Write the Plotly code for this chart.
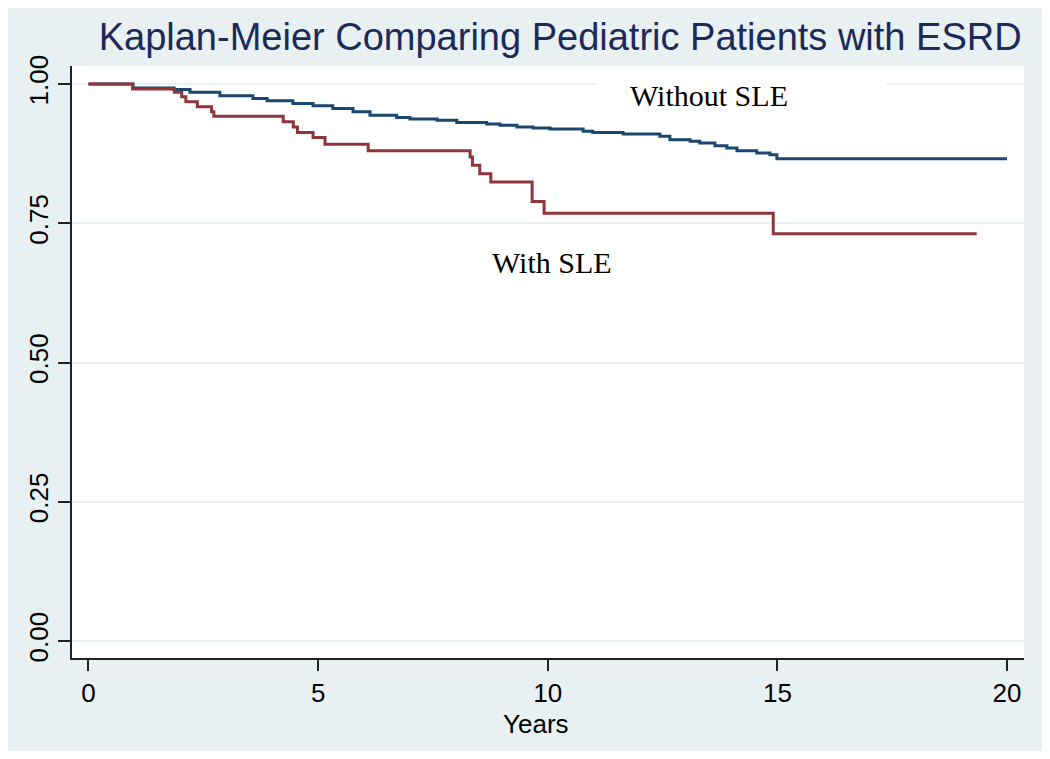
import plotly.graph_objects as go

# Kaplan-Meier estimates
years_without_sle = [0.0, 0.97, 1.86, 2.21, 2.86, 3.58, 3.89, 4.45, 4.89, 5.32, 5.76,
                     6.13, 6.71, 7.00, 7.59, 8.02, 8.67, 8.96, 9.33, 9.68, 10.05,
                     10.77, 10.98, 11.64, 12.44, 12.66, 13.10, 13.31, 13.64, 13.90,
                     14.12, 14.55, 14.84, 14.99, 20.0]
surv_without_sle = [1.000, 0.993, 0.990, 0.985, 0.979, 0.974, 0.970, 0.965, 0.961, 0.956,
                    0.950, 0.944, 0.940, 0.937, 0.935, 0.931, 0.928, 0.926, 0.923, 0.921,
                    0.919, 0.915, 0.913, 0.910, 0.906, 0.900, 0.897, 0.894, 0.889, 0.885,
                    0.880, 0.876, 0.873, 0.866, 0.866]

years_with_sle = [0.0, 0.96, 1.87, 2.03, 2.12, 2.37, 2.68, 2.73, 4.24, 4.46, 4.55, 4.89,
                  5.15, 6.09, 8.31, 8.36, 8.52, 8.76, 9.66, 9.92, 14.91, 19.34]
surv_with_sle = [1.000, 0.991, 0.985, 0.977, 0.968, 0.959, 0.950, 0.942, 0.932, 0.923,
                 0.913, 0.904, 0.892, 0.880, 0.869, 0.854, 0.839, 0.824, 0.789, 0.768,
                 0.731, 0.731]

x_ticks = [0, 5, 10, 15, 20]
y_ticks = [0.0, 0.25, 0.5, 0.75, 1.0]
y_tick_labels = ["0.00", "0.25", "0.50", "0.75", "1.00"]

bg_color = "#e8f0f2"
blue = "#1a476f"
red = "#90353b"

fig = go.Figure()

fig.add_trace(go.Scatter(
    x=years_without_sle, y=surv_without_sle,
    mode="lines", line=dict(color=blue, width=3, shape="hv"),
    name="Without SLE",
))
fig.add_trace(go.Scatter(
    x=years_with_sle, y=surv_with_sle,
    mode="lines", line=dict(color=red, width=3, shape="hv"),
    name="With SLE",
))

# white box behind the "Without SLE" label (cuts the 1.00 gridline)
fig.add_shape(type="rect", xref="x", yref="y", x0=11.03, x1=17.38, y0=0.955, y1=1.03,
              fillcolor="white", line_width=0, layer="between")

fig.add_annotation(x=13.51, y=0.980, xref="x", yref="y", text="Without SLE",
                   showarrow=False, font=dict(family="Liberation Serif", size=30, color="black"))
fig.add_annotation(x=10.09, y=0.679, xref="x", yref="y", text="With SLE",
                   showarrow=False, font=dict(family="Liberation Serif", size=30, color="black"))

axis_font = dict(family="Liberation Sans", size=26, color="black")

# x axis title placed by hand
fig.add_annotation(x=0.487, y=-0.112, xref="paper", yref="paper", text="Years",
                   showarrow=False, yanchor="middle", font=axis_font)

fig.update_xaxes(
    range=[-0.359, 20.37], tickvals=x_ticks, ticks="outside", ticklen=11, tickwidth=1.5,
    tickcolor="#222", showline=True, linecolor="#222", linewidth=1.5, showgrid=False,
    zeroline=False, tickfont=axis_font, automargin=False,
)
fig.update_yaxes(
    range=[-0.0305, 1.0323], tickvals=y_ticks, ticktext=y_tick_labels, tickangle=-90,
    ticks="outside", ticklen=12, tickwidth=1.5, tickcolor="#222", showline=True,
    linecolor="#222", linewidth=1.5, showgrid=True, gridcolor=bg_color, gridwidth=2,
    zeroline=False, tickfont=axis_font, automargin=False,
)

# page body adds an 8px white margin, which gives the white frame
fig.update_layout(
    width=1034, height=743,
    margin=dict(l=64, r=18, t=58, b=93, autoexpand=False),
    paper_bgcolor=bg_color, plot_bgcolor="white",
    showlegend=False,
    title=dict(
        text="Kaplan-Meier Comparing Pediatric Patients with ESRD",
        font=dict(family="Liberation Sans", size=38, color="#1c2a5a"),
        x=0.534, xanchor="center", y=0.962, yanchor="middle",
    ),
)

fig.write_html("out.html")
